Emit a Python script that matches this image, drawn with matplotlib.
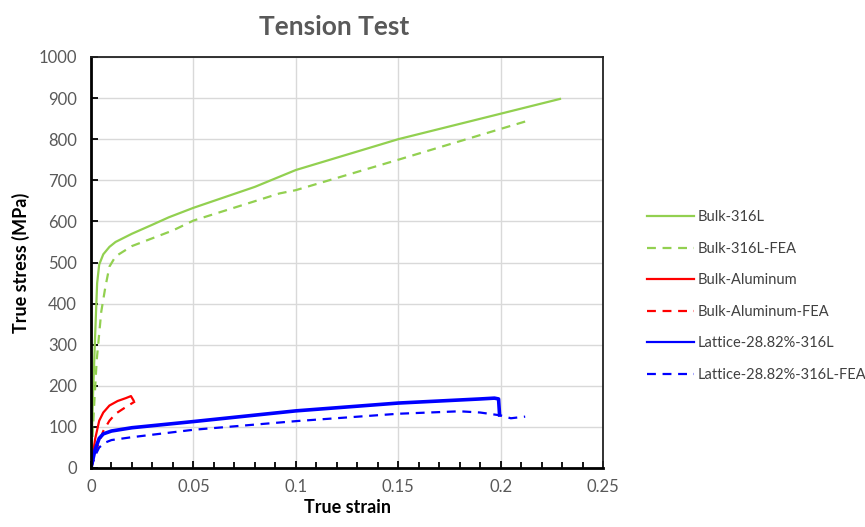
import matplotlib
matplotlib.use("Agg")
import matplotlib.pyplot as plt
import numpy as np

# ---------------- data ----------------
bulk316_x = [0, 0.001, 0.002, 0.003, 0.004, 0.006, 0.009, 0.012, 0.02, 0.03, 0.038, 0.05, 0.08, 0.1, 0.15, 0.2, 0.229]
bulk316_y = [0, 180, 320, 450, 495, 520, 538, 550, 570, 592, 610, 633, 684, 725, 800, 862, 898]

bulk316fea_x = [0, 0.0015, 0.0028, 0.005, 0.007, 0.009, 0.012, 0.02, 0.04, 0.05, 0.092, 0.1, 0.15, 0.18, 0.2, 0.212]
bulk316fea_y = [0, 150, 263, 380, 440, 490, 515, 540, 578, 602, 668, 676, 750, 795, 825, 843]

al_x = [0, 0.002, 0.004, 0.006, 0.009, 0.013, 0.017, 0.0195, 0.0207]
al_y = [0, 70, 115, 135, 152, 163, 170, 175, 165]

alfea_x = [0, 0.003, 0.006, 0.009, 0.012, 0.016, 0.0215]
alfea_y = [0, 50, 90, 115, 132, 145, 162]

lat_x = [0, 0.002, 0.004, 0.006, 0.01, 0.02, 0.05, 0.1, 0.15, 0.19, 0.197, 0.199, 0.1995]
lat_y = [0, 45, 72, 83, 90, 98, 113, 139, 158, 168, 170, 168, 129]

latfea_x = [0, 0.002, 0.004, 0.007, 0.01, 0.02, 0.05, 0.1, 0.15, 0.18, 0.19, 0.2, 0.205, 0.212]
latfea_y = [0, 30, 50, 62, 68, 75, 93, 114, 132, 138, 135, 128, 121, 125]

labels = ["Bulk-316L", "Bulk-316L-FEA", "Bulk-Aluminum", "Bulk-Aluminum-FEA",
          "Lattice-28.82%-316L", "Lattice-28.82%-316L-FEA"]

x_ticks = [0, 0.05, 0.1, 0.15, 0.2, 0.25]
x_ticklabels = ["0", "0.05", "0.1", "0.15", "0.2", "0.25"]
y_ticks = list(range(0, 1001, 100))

# ---------------- figure ----------------
plt.rcParams['font.family'] = ['Lato', 'DejaVu Sans']
W, H = 865, 527
fig = plt.figure(figsize=(W / 100, H / 100), dpi=100)
ax = fig.add_axes([91 / W, 1 - 468 / H, (603 - 91) / W, (468 - 57) / H])

green = "#92d050"
red = "#ff0000"
blue = "#0000ff"

ax.plot(bulk316_x, bulk316_y, color=green, lw=1.6, label=labels[0])
ax.plot(bulk316fea_x, bulk316fea_y, color=green, lw=1.6, ls="--", dashes=(4, 3), label=labels[1])
ax.plot(al_x, al_y, color=red, lw=1.6, label=labels[2])
ax.plot(alfea_x, alfea_y, color=red, lw=1.6, ls="--", dashes=(4, 3), label=labels[3])
ax.plot(lat_x, lat_y, color=blue, lw=2.6, label=labels[4])
ax.plot(latfea_x, latfea_y, color=blue, lw=1.6, ls="--", dashes=(4, 3), label=labels[5])

ax.set_xlim(0, 0.25)
ax.set_ylim(0, 1000)
ax.set_xticks(x_ticks)
ax.set_xticklabels(x_ticklabels)
ax.set_xticks(np.arange(0, 0.2501, 0.01), minor=True)
ax.set_yticks(y_ticks)

ax.grid(True, which="major", color="#d9d9d9", lw=1)
ax.set_axisbelow(True)

ax.tick_params(axis="both", which="major", direction="in", length=5, width=1.3,
               color="black", labelsize=12, labelcolor="#595959")
ax.tick_params(axis="x", which="minor", direction="in", length=4, width=1.3, color="black")
ax.tick_params(axis="x", which="major", pad=8)
ax.tick_params(axis="y", which="major", pad=10)

for s in ["left", "bottom"]:
    ax.spines[s].set_linewidth(2)
    ax.spines[s].set_color("black")
for s in ["top", "right"]:
    ax.spines[s].set_linewidth(1.3)
    ax.spines[s].set_color("#222222")

ax.set_xlabel("True strain", fontsize=13, fontweight="bold", color="black", labelpad=3)
ax.set_ylabel("True stress (MPa)", fontsize=13, fontweight="bold", color="black", labelpad=6)

fig.text(334 / W, 1 - 27 / H, "Tension Test", ha="center", va="center",
         fontsize=19, fontweight="bold", color="#595959")

leg = fig.legend(loc="center left", bbox_to_anchor=(634 / W, 1 - 296 / H), frameon=False,
                 fontsize=10.5, handlelength=3.2, handletextpad=0.25, labelspacing=1.2,
                 labelcolor="#404040")
for h in leg.get_lines():
    h.set_linewidth(1.6)

fig.savefig("out.png", dpi=100)
